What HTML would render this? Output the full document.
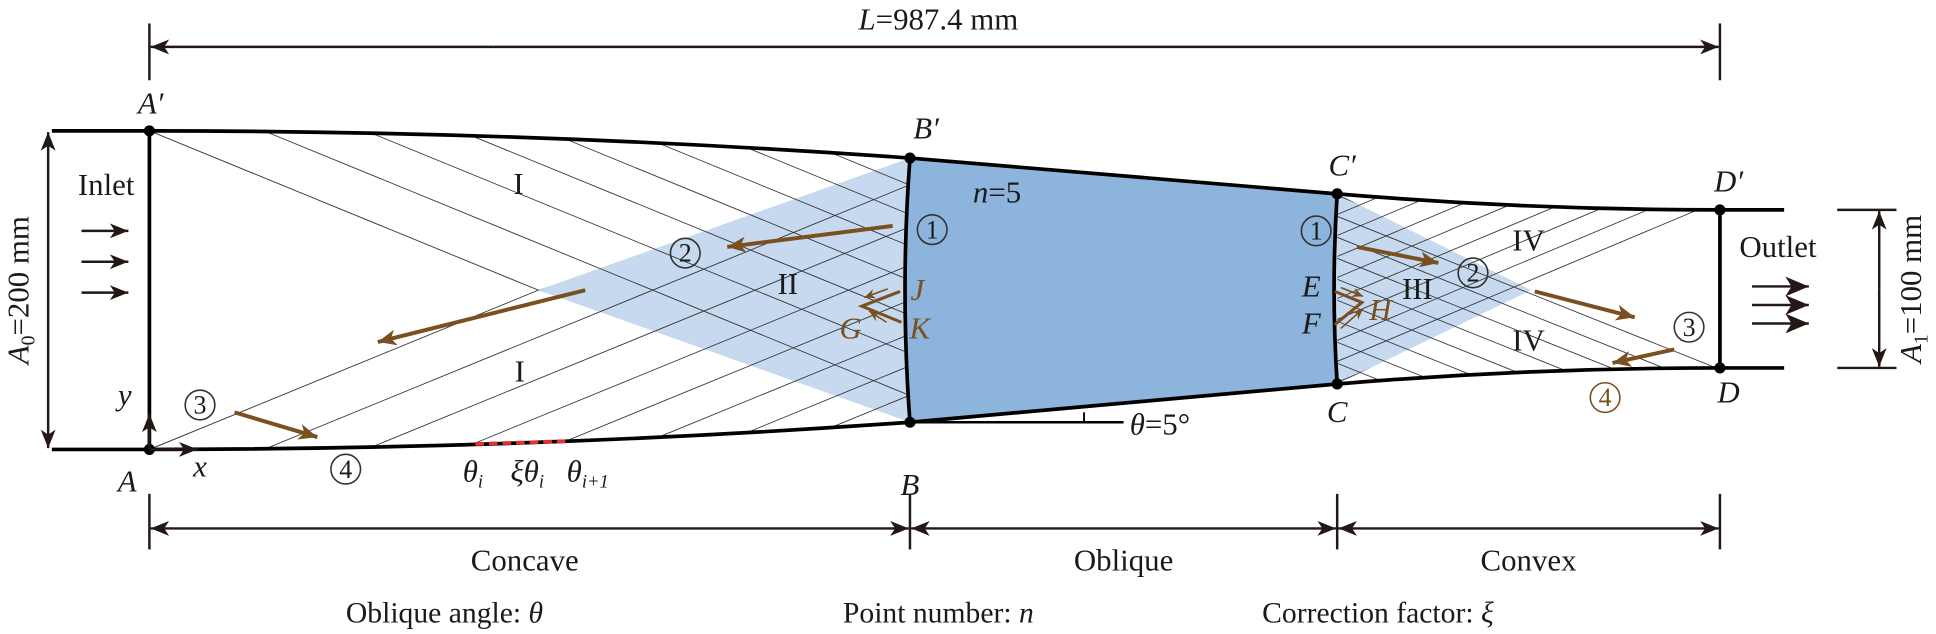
<!DOCTYPE html>
<html><head><meta charset="utf-8"><style>
html,body{margin:0;padding:0;background:#fff;}
svg{display:block;}
text{font-family:"Liberation Serif","Times New Roman",serif;fill:#1a1a1a;}
.it{font-style:italic;}
</style></head><body>
<svg width="1936" height="634" viewBox="0 0 1568 513.5" preserveAspectRatio="none" xmlns="http://www.w3.org/2000/svg" font-family="Liberation Serif, serif">
<defs>
<marker id="ab" markerUnits="userSpaceOnUse" markerWidth="20" markerHeight="16" viewBox="-16 -8 18 16" refX="0" refY="0" orient="auto"><path d="M0,0 L-15,-6.5 L-11,0 L-15,6.5 Z" fill="#7a5020"/></marker>
<marker id="abs" markerUnits="userSpaceOnUse" markerWidth="12" markerHeight="10" viewBox="-10 -5 11 10" refX="0" refY="0" orient="auto"><path d="M0,0 L-9,-4 L-6,0 L-9,4 Z" fill="#7a5020"/></marker>
<marker id="ak" markerUnits="userSpaceOnUse" markerWidth="20" markerHeight="16" viewBox="-16 -8 18 16" refX="0" refY="0" orient="auto"><path d="M0,0 L-15,-6 L-11,0 L-15,6 Z" fill="#231815"/></marker>
<marker id="akb" markerUnits="userSpaceOnUse" markerWidth="22" markerHeight="20" viewBox="-20 -10 21 20" refX="0" refY="0" orient="auto"><path d="M0,0 L-19,-8 L-14,0 L-19,8 Z" fill="#231815"/></marker>
<clipPath id="c1"><path d="M121,106 Q429,106 737,128 Q729,235 737,342 L436,235 Z"/></clipPath>
<clipPath id="c2"><path d="M121,364 Q429,364 737,342 Q729,235 737,128 L436,235 Z"/></clipPath>
<clipPath id="c3"><path d="M1083,157 Q1238,170 1393,170 L1240,235 L1083,311 Z"/></clipPath>
<clipPath id="c4"><path d="M1083,311 Q1238,298 1393,298 L1240,235 L1083,157 Z"/></clipPath>
</defs>

<path d="M737,128 L436,235 L737,342 Q729,235 737,128 Z" fill="#c6d9ee"/>
<path d="M1083,157 L1240,235 L1083,311 Q1078,234 1083,157 Z" fill="#c6d9ee"/>
<path d="M737,128 L1083,157 Q1078,234 1083,311 L737,342 Q729,235 737,128 Z" fill="#8db4dc"/>

<g stroke="#333" stroke-width="0.7" fill="none">
<line x1="121" y1="106" x2="436" y2="235"/>
<line x1="121" y1="364" x2="436" y2="235"/>
<g clip-path="url(#c1)">
<line x1="121" y1="106" x2="760" y2="368"/>
<line x1="215" y1="106.5" x2="780" y2="338"/>
<line x1="301" y1="107.9" x2="780" y2="304"/>
<line x1="382" y1="110" x2="780" y2="273"/>
<line x1="458" y1="112.6" x2="780" y2="244.6"/>
<line x1="533" y1="115.8" x2="780" y2="217"/>
<line x1="605" y1="119.6" x2="780" y2="191.4"/>
<line x1="673" y1="123.7" x2="780" y2="167.6"/>
</g>
<g clip-path="url(#c2)">
<line x1="121" y1="364" x2="760" y2="102"/>
<line x1="215" y1="363.5" x2="780" y2="132"/>
<line x1="301" y1="362.1" x2="780" y2="166"/>
<line x1="382" y1="360" x2="780" y2="197"/>
<line x1="458" y1="357.4" x2="780" y2="225.4"/>
<line x1="533" y1="354.2" x2="780" y2="253"/>
<line x1="605" y1="350.4" x2="780" y2="278.6"/>
<line x1="673" y1="346.3" x2="780" y2="302.4"/>
</g>
<g clip-path="url(#c3)">
<line x1="1080" y1="175" x2="1420" y2="32"/>
<line x1="1080" y1="192" x2="1420" y2="49"/>
<line x1="1080" y1="209" x2="1420" y2="66"/>
<line x1="1080" y1="226" x2="1420" y2="83"/>
<line x1="1080" y1="243" x2="1420" y2="100"/>
<line x1="1080" y1="260" x2="1420" y2="117"/>
<line x1="1080" y1="277" x2="1420" y2="134"/>
<line x1="1080" y1="294" x2="1420" y2="151"/>
<line x1="1080" y1="311" x2="1420" y2="168"/>
</g>
<g clip-path="url(#c4)">
<line x1="1080" y1="157" x2="1420" y2="293"/>
<line x1="1080" y1="174" x2="1420" y2="310"/>
<line x1="1080" y1="191" x2="1420" y2="327"/>
<line x1="1080" y1="208" x2="1420" y2="344"/>
<line x1="1080" y1="225" x2="1420" y2="361"/>
<line x1="1080" y1="242" x2="1420" y2="378"/>
<line x1="1080" y1="259" x2="1420" y2="395"/>
<line x1="1080" y1="276" x2="1420" y2="412"/>
<line x1="1080" y1="293" x2="1420" y2="429"/>
</g>
</g>

<g stroke="#000" stroke-width="3" fill="none" stroke-linejoin="round">
<path d="M42,106 L121,106 Q429,106 737,128 L1083,157 Q1238,170 1393,170 L1445,170"/>
<path d="M42,364 L121,364 Q429,364 737,342 L1083,311 Q1238,298 1393,298 L1445,298"/>
<line x1="121" y1="106" x2="121" y2="364"/>
<line x1="1393" y1="170" x2="1393" y2="298"/>
<path d="M737,128 Q729,235 737,342"/>
<path d="M1083,157 Q1078,234 1083,311"/>
</g>
<g fill="#000">
<circle cx="121" cy="106" r="4.5"/><circle cx="121" cy="364" r="4.5"/>
<circle cx="737" cy="128" r="4.5"/><circle cx="737" cy="342" r="4.5"/>
<circle cx="1083" cy="157" r="4.5"/><circle cx="1083" cy="311" r="4.5"/>
<circle cx="1393" cy="170" r="4.5"/><circle cx="1393" cy="298" r="4.5"/>
</g>
<line x1="385" y1="359.6" x2="460" y2="357.3" stroke="#e83030" stroke-width="3" stroke-dasharray="7,4"/>
<line x1="737" y1="342" x2="910" y2="342" stroke="#000" stroke-width="2"/>
<line x1="878" y1="334" x2="878" y2="342" stroke="#000" stroke-width="1.5"/>

<g stroke="#231815" stroke-width="2" fill="none">
<line x1="121" y1="19" x2="121" y2="65"/><line x1="1393" y1="19" x2="1393" y2="65"/>
<line x1="121" y1="400" x2="121" y2="445"/><line x1="737" y1="400" x2="737" y2="445"/>
<line x1="1083" y1="400" x2="1083" y2="445"/><line x1="1393" y1="400" x2="1393" y2="445"/>
<line x1="1488" y1="170" x2="1536" y2="170"/><line x1="1488" y1="298" x2="1536" y2="298"/>
</g>
<g stroke="#231815" stroke-width="2" marker-end="url(#ak)">
<line x1="400" y1="38" x2="122" y2="38"/><line x1="400" y1="38" x2="1392" y2="38"/>
<line x1="430" y1="428" x2="122" y2="428"/><line x1="430" y1="428" x2="736" y2="428"/>
<line x1="910" y1="428" x2="738" y2="428"/><line x1="910" y1="428" x2="1082" y2="428"/>
<line x1="1238" y1="428" x2="1084" y2="428"/><line x1="1238" y1="428" x2="1392" y2="428"/>
<line x1="39" y1="235" x2="39" y2="107"/><line x1="39" y1="235" x2="39" y2="363"/>
<line x1="1522" y1="234" x2="1522" y2="171"/><line x1="1522" y1="234" x2="1522" y2="297"/>
<line x1="66" y1="187" x2="104" y2="187"/><line x1="66" y1="212" x2="104" y2="212"/><line x1="66" y1="237" x2="104" y2="237"/>
<line x1="121" y1="364" x2="121" y2="335"/><line x1="121" y1="364" x2="160" y2="364"/>
</g>
<g stroke="#231815" stroke-width="2" marker-end="url(#akb)">
<line x1="1419" y1="232" x2="1465" y2="232"/><line x1="1419" y1="247" x2="1465" y2="247"/><line x1="1419" y1="262" x2="1465" y2="262"/>
</g>

<g stroke="#7a5020" stroke-width="3.2" marker-end="url(#ab)">
<line x1="723" y1="183" x2="589" y2="200"/>
<line x1="474" y1="235" x2="306" y2="277"/>
<line x1="190" y1="334" x2="257" y2="354"/>
<line x1="1099" y1="200" x2="1165" y2="213"/>
<line x1="1243" y1="236" x2="1324" y2="257"/>
<line x1="1356" y1="283" x2="1306" y2="294"/>
</g>
<g stroke="#7a5020" stroke-width="2.5" fill="none">
<polyline points="729,236 698,248 730,261"/>
<polyline points="1081,236 1103,245 1081,263"/>
</g>
<g stroke="#7a5020" stroke-width="1.3" marker-end="url(#abs)">
<line x1="719" y1="234" x2="700" y2="241"/>
<line x1="718" y1="261" x2="704" y2="252"/>
<line x1="1086" y1="233" x2="1104" y2="240"/>
<line x1="1086" y1="266" x2="1104" y2="250"/>
</g>

<g fill="none" stroke="#333" stroke-width="1.3">
<circle cx="755" cy="186" r="12"/><circle cx="555" cy="205" r="12"/>
<circle cx="162" cy="328" r="12"/><circle cx="280" cy="380" r="12"/>
<circle cx="1066" cy="187" r="12"/><circle cx="1193" cy="221" r="12"/>
<circle cx="1368" cy="265" r="12"/><circle cx="1300" cy="322" r="12" stroke="#7a5020"/>
</g>
<g font-size="21" text-anchor="middle">
<text x="755" y="193">1</text><text x="555" y="212">2</text>
<text x="162" y="335">3</text><text x="280" y="387">4</text>
<text x="1066" y="194">1</text><text x="1193" y="228">2</text>
<text x="1368" y="272">3</text><text x="1300" y="329" style="fill:#7a5020">4</text>
</g>

<g font-size="25">
<text x="760" y="24" text-anchor="middle"><tspan class="it">L</tspan>=987.4 mm</text>
<text x="86" y="158" text-anchor="middle">Inlet</text>
<text x="1440" y="208" text-anchor="middle">Outlet</text>
<text class="it" x="122" y="92" text-anchor="middle">A′</text>
<text class="it" x="103" y="398" text-anchor="middle">A</text>
<text class="it" x="101" y="328" text-anchor="middle">y</text>
<text class="it" x="162" y="386" text-anchor="middle">x</text>
<text class="it" x="750" y="112" text-anchor="middle">B′</text>
<text class="it" x="737" y="401" text-anchor="middle">B</text>
<text class="it" x="1087" y="142" text-anchor="middle">C′</text>
<text class="it" x="1083" y="342" text-anchor="middle">C</text>
<text class="it" x="1400" y="155" text-anchor="middle">D′</text>
<text class="it" x="1400" y="326" text-anchor="middle">D</text>
<text x="788" y="164"><tspan class="it">n</tspan>=5</text>
<text x="915" y="352"><tspan class="it">θ</tspan>=5°</text>
<text x="420" y="157" text-anchor="middle">I</text>
<text x="421" y="309" text-anchor="middle">I</text>
<text x="638" y="238" text-anchor="middle">II</text>
<text x="1148" y="242" text-anchor="middle">III</text>
<text x="1238" y="203" text-anchor="middle">IV</text>
<text x="1238" y="284" text-anchor="middle">IV</text>
<text class="it" x="743" y="243" text-anchor="middle" style="fill:#7a5020">J</text>
<text class="it" x="745" y="274" text-anchor="middle" style="fill:#7a5020">K</text>
<text class="it" x="689" y="274" text-anchor="middle" style="fill:#7a5020">G</text>
<text class="it" x="1118" y="259" text-anchor="middle" style="fill:#7a5020">H</text>
<text class="it" x="1062" y="240" text-anchor="middle">E</text>
<text class="it" x="1062" y="270" text-anchor="middle">F</text>
<text class="it" x="383" y="390" text-anchor="middle">θ<tspan font-size="15" dy="5">i</tspan></text>
<text class="it" x="427" y="390" text-anchor="middle">ξθ<tspan font-size="15" dy="5">i</tspan></text>
<text class="it" x="476" y="390" text-anchor="middle">θ<tspan font-size="15" dy="5">i+1</tspan></text>
<text x="425" y="462" text-anchor="middle">Concave</text>
<text x="910" y="462" text-anchor="middle">Oblique</text>
<text x="1238" y="462" text-anchor="middle">Convex</text>
</g>
<g font-size="24">
<text x="360" y="504" text-anchor="middle">Oblique angle: <tspan class="it">θ</tspan></text>
<text x="760" y="504" text-anchor="middle">Point number: <tspan class="it">n</tspan></text>
<text x="1116" y="504" text-anchor="middle">Correction factor: <tspan class="it">ξ</tspan></text>
</g>
<g font-size="25">
<text transform="translate(23,235) rotate(-90)" text-anchor="middle"><tspan class="it">A</tspan><tspan font-size="16" dy="5">0</tspan><tspan dy="-5">=200 mm</tspan></text>
<text transform="translate(1556,234) rotate(-90)" text-anchor="middle"><tspan class="it">A</tspan><tspan font-size="16" dy="5">1</tspan><tspan dy="-5">=100 mm</tspan></text>
</g>
</svg>
</body></html>
